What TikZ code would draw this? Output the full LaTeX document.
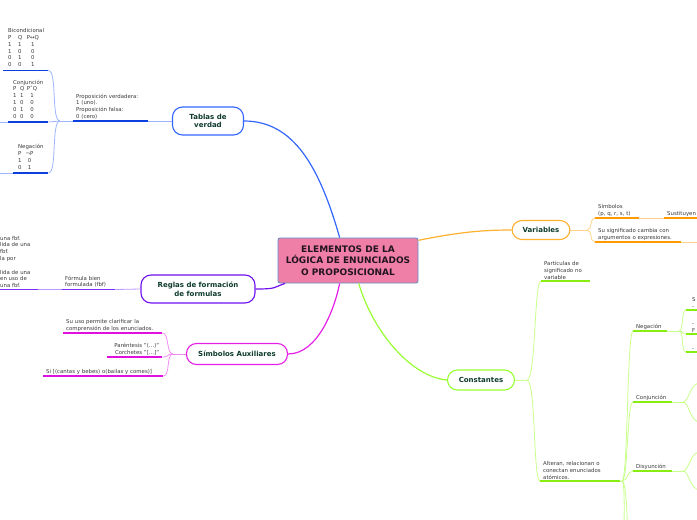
\documentclass[tikz,border=0pt]{standalone}
\usepackage{fontspec}
\setmainfont{DejaVu Sans}
\definecolor{bluetop}{HTML}{3366FF}
\definecolor{bluedark}{HTML}{0B3FE0}
\definecolor{bluelight}{HTML}{9DB5FF}
\definecolor{purptop}{HTML}{7010F0}
\definecolor{purpdark}{HTML}{7A2EFF}
\definecolor{purplight}{HTML}{BB99FF}
\definecolor{magtop}{HTML}{E620E6}
\definecolor{magdark}{HTML}{E010E0}
\definecolor{maglight}{HTML}{F28CF2}
\definecolor{orgtop}{HTML}{FFB030}
\definecolor{orgdark}{HTML}{FF9A00}
\definecolor{orglight}{HTML}{FFD38A}
\definecolor{grntop}{HTML}{99FF33}
\definecolor{grndark}{HTML}{88EE11}
\definecolor{grnlight}{HTML}{C8FF8A}
\definecolor{topictxt}{HTML}{0E3B2E}
\definecolor{leaftxt}{HTML}{3A3A3A}
\definecolor{cenfill}{HTML}{F07FA8}
\definecolor{cenborder}{HTML}{5A8EC4}
\definecolor{centxt}{HTML}{22141E}

\begin{document}
\begin{tikzpicture}[
  x=1pt, y=-1pt,
  leaf/.style={anchor=south west, align=left, inner xsep=3pt, inner ysep=1.6pt,
               font=\fontsize{5.4}{6.8}\selectfont, text=leaftxt},
  topic/.style={draw, line width=1.1pt, rounded corners=10pt, fill=white, align=center,
                font=\bfseries\fontsize{7}{8.5}\selectfont, text=topictxt, inner sep=1pt},
  central/.style={draw=cenborder, line width=0.8pt, fill=cenfill, rounded corners=2pt,
                  align=center, minimum width=140pt, minimum height=45pt,
                  font=\bfseries\fontsize{9}{11.5}\selectfont, text=centxt},
  branch/.style={line width=1.2pt},
  ul/.style={line width=1.6pt},
  link/.style={line width=0.8pt}
]
\useasboundingbox (0,0) rectangle (697,520);
\clip (0,0) rectangle (697,520);
\coordinate (edgeL) at (0,0);
\coordinate (edgeR) at (700,0);

\node[central] (cen) at (348,260.5) {ELEMENTOS DE LA\\LÓGICA DE ENUNCIADOS\\O PROPOSICIONAL};

% Tablas de verdad
\node[topic, draw=bluetop, minimum width=71pt, minimum height=28pt] (tv) at (208,121) {Tablas de\\verdad};
\draw[branch, bluetop] (cen.110) .. controls +(-20,-70) and +(50,0) .. (tv.east);
\node[leaf, text width=69pt] (pv) at (73,121) {Proposición verdadera:\\1 (uno).\\Proposición falsa:\\0 (cero)};
\node[leaf, text width=39pt] (bic) at (3,70.5) {\hspace*{2pt}Bicondicional\\
  \hspace*{2pt}\begin{tabular}[t]{@{}l@{\hspace{6.5pt}}l@{\hspace{4.5pt}}c@{}}
  P&Q&P↔Q\\ 1&1&1\\ 1&0&0\\ 0&1&0\\ 0&0&1\end{tabular}};
\node[leaf, text width=34pt] (con) at (8,122) {\hspace*{2pt}Conjunción\\
  \hspace*{2pt}\begin{tabular}[t]{@{}l@{\hspace{3.5pt}}l@{\hspace{2.5pt}}c@{}}
  P&Q&P˄Q\\ 1&1&1\\ 1&0&0\\ 0&1&0\\ 0&0&0\end{tabular}};
\node[leaf, text width=29pt] (neg) at (13,173) {\hspace*{2pt}Negación\\
  \hspace*{2pt}\begin{tabular}[t]{@{}l@{\hspace{4pt}}c@{}}
  P&¬P\\ 1&0\\ 0&1\end{tabular}};
\coordinate (jtv) at (60,121);
\draw[link, bluelight] (pv.south east) -- (tv.west);
\draw[link, bluelight] (jtv) -- (pv.south west);
\draw[link, bluelight] (jtv) .. controls +(-9,0) and +(9,0) .. (bic.south east);
\draw[link, bluelight] (jtv) -- (con.south east);
\draw[link, bluelight] (jtv) .. controls +(-9,0) and +(9,0) .. (neg.south east);
\draw[link, bluelight] (con.south west) -- (con.south west -| edgeL);
\draw[link, bluelight] (neg.south west) -- (neg.south west -| edgeL);
\draw[ul, bluedark] (pv.south west) -- (pv.south east);
\draw[ul, bluedark] (bic.south west) -- (bic.south east);
\draw[ul, bluedark] (con.south west) -- (con.south east);
\draw[ul, bluedark] (neg.south west) -- (neg.south east);

% Reglas de formacion
\node[topic, draw=purptop, minimum width=114pt, minimum height=28pt] (rf) at (198,289) {Reglas de formación\\de formulas};
\draw[branch, purptop] (rf.east) .. controls +(22,0) and +(-12,4) .. (cen.200);
\node[leaf, text width=47pt] (fbf) at (62,289.5) {Fórmula bien\\formulada (fbf)};
\node[leaf, inner xsep=0pt, text width=38pt] (reg) at (0,289.5) {una fbf.\\lida de una\\fbf.\\la por\\[6.8pt]lida de una\\en uso de\\una fbf.};
\draw[link, purplight] (fbf.south east) -- (rf.west);
\draw[link, purplight] (reg.south east) -- (fbf.south west);
\draw[ul, purpdark] (fbf.south west) -- (fbf.south east);
\draw[ul, purpdark] (reg.south west) -- (reg.south east);

% Simbolos auxiliares
\node[topic, draw=magtop, minimum width=101pt, minimum height=21pt] (sa) at (237,354) {Símbolos Auxiliares};
\draw[branch, magtop] (sa.east) .. controls +(30,0) and +(-5,25) .. (cen.250);
\node[leaf, text width=93pt] (clar) at (63,333) {Su uso permite clarificar la\\comprensión de los enunciados.};
\node[leaf, align=right, text width=49pt] (par) at (107,357) {Paréntesis "(…)"\\Corchetes "[…]"};
\node[leaf, text width=114pt] (ej) at (43,376) {Si [(cantas y bebes) o(bailas y comes)]};
\coordinate (jsa) at (173,354);
\draw[link, maglight] (sa.west) -- (jsa);
\draw[link, maglight] (jsa) .. controls +(-7,0) and +(7,0) .. (clar.south east);
\draw[link, maglight] (jsa) .. controls +(-7,0) and +(7,0) .. (par.south east);
\draw[link, maglight] (jsa) .. controls +(-7,0) and +(7,0) .. (ej.south east);
\draw[ul, magdark] (clar.south west) -- (clar.south east);
\draw[ul, magdark] (par.south west) -- (par.south east);
\draw[ul, magdark] (ej.south west) -- (ej.south east);

% Variables
\node[topic, draw=orgtop, minimum width=58pt, minimum height=19pt] (var) at (541,230) {Variables};
\draw[branch, orgtop] (cen.16) .. controls +(40,-8) and +(-30,0) .. (var.west);
\node[leaf, text width=38pt] (sim) at (595,218) {Símbolos\\(p, q, r, s, t)};
\node[leaf, text width=40pt] (sust) at (664,218) {Sustituyen};
\node[leaf, text width=80pt] (sig) at (595,242) {Su significado cambia con\\argumentos o expresiones.};
\coordinate (jvar) at (587,230);
\draw[link, orglight] (var.east) -- (jvar);
\draw[link, orglight] (jvar) .. controls +(6,0) and +(-6,0) .. (sim.south west);
\draw[link, orglight] (jvar) .. controls +(6,0) and +(-6,0) .. (sig.south west);
\draw[link, orglight] (sim.south east) -- (sust.south west);
\draw[link, orglight] (sig.south east) -- (sig.south east -| edgeR);
\draw[ul, orgdark] (sim.south west) -- (sim.south east);
\draw[ul, orgdark] (sust.south west) -- (sust.south east);
\draw[ul, orgdark] (sig.south west) -- (sig.south east);

% Constantes
\node[topic, draw=grntop, minimum width=67pt, minimum height=20pt] (cst) at (481,380) {Constantes};
\draw[branch, grntop] (cen.295) .. controls +(15,50) and +(-35,-3) .. (cst.west);
\node[leaf, text width=43pt] (part) at (541,281) {Partículas de\\significado no\\variable};
\node[leaf, text width=74pt] (alt) at (540,481) {Alteran, relacionan o\\conectan enunciados\\atómicos.};
\node[leaf, text width=28pt] (oneg) at (633,331) {Negación};
\node[leaf, text width=33pt] (oconj) at (633,402) {Conjunción};
\node[leaf, text width=33pt] (odis) at (633,471) {Disyunción};
\node[leaf, inner xsep=6pt, text width=10pt] (neg1) at (686,310) {S\\-};
\node[leaf, inner xsep=6pt, text width=10pt] (neg2) at (686,334) {-\\F};
\node[leaf, inner xsep=6pt, text width=10pt] (neg3) at (686,352) {-};
\coordinate (jcst) at (527,380);
\coordinate (jop) at (622,481);
\coordinate (jneg) at (679,331);
\coordinate (jconj) at (683,402);
\coordinate (jdis) at (683,471);
\coordinate (cj1) at (700,383);
\coordinate (cj2) at (700,422);
\coordinate (ds1) at (700,452);
\coordinate (ds2) at (700,490);
\coordinate (dn1) at (624,540);
\coordinate (dn2) at (628,560);
\draw[link, grnlight] (cst.east) -- (jcst);
\draw[link, grnlight] (jcst) .. controls +(9,0) and +(-7,0) .. (part.south west);
\draw[link, grnlight] (jcst) .. controls +(9,0) and +(-7,0) .. (alt.south west);
\draw[link, grnlight] (alt.south east) -- (jop);
\draw[link, grnlight] (jop) .. controls +(6,0) and +(-6,0) .. (oneg.south west);
\draw[link, grnlight] (jop) .. controls +(6,0) and +(-6,0) .. (oconj.south west);
\draw[link, grnlight] (jop) .. controls +(6,0) and +(-6,0) .. (odis.south west);
\draw[link, grnlight] (jop) .. controls +(3,0) and +(0,-25) .. (dn1);
\draw[link, grnlight] (jop) .. controls +(5,0) and +(0,-25) .. (dn2);
\draw[link, grnlight] (oneg.south east) -- (jneg);
\draw[link, grnlight] (jneg) .. controls +(5,0) and +(-5,0) .. (neg1.south west);
\draw[link, grnlight] (jneg) .. controls +(5,0) and +(-5,0) .. (neg2.south west);
\draw[link, grnlight] (jneg) .. controls +(5,0) and +(-5,0) .. (neg3.south west);
\draw[link, grnlight] (oconj.south east) -- (jconj);
\draw[link, grnlight] (jconj) .. controls +(6,0) and +(-10,0) .. (cj1);
\draw[link, grnlight] (jconj) .. controls +(6,0) and +(-10,0) .. (cj2);
\draw[link, grnlight] (odis.south east) -- (jdis);
\draw[link, grnlight] (jdis) .. controls +(6,0) and +(-10,0) .. (ds1);
\draw[link, grnlight] (jdis) .. controls +(6,0) and +(-10,0) .. (ds2);
\draw[ul, grndark] (part.south west) -- (part.south east);
\draw[ul, grndark] (alt.south west) -- (alt.south east);
\draw[ul, grndark] (oneg.south west) -- (oneg.south east);
\draw[ul, grndark] (oconj.south west) -- (oconj.south east);
\draw[ul, grndark] (odis.south west) -- (odis.south east);
\draw[ul, grndark] (neg1.south west) -- (neg1.south east);
\draw[ul, grndark] (neg2.south west) -- (neg2.south east);
\draw[ul, grndark] (neg3.south west) -- (neg3.south east);
\end{tikzpicture}
\end{document}
